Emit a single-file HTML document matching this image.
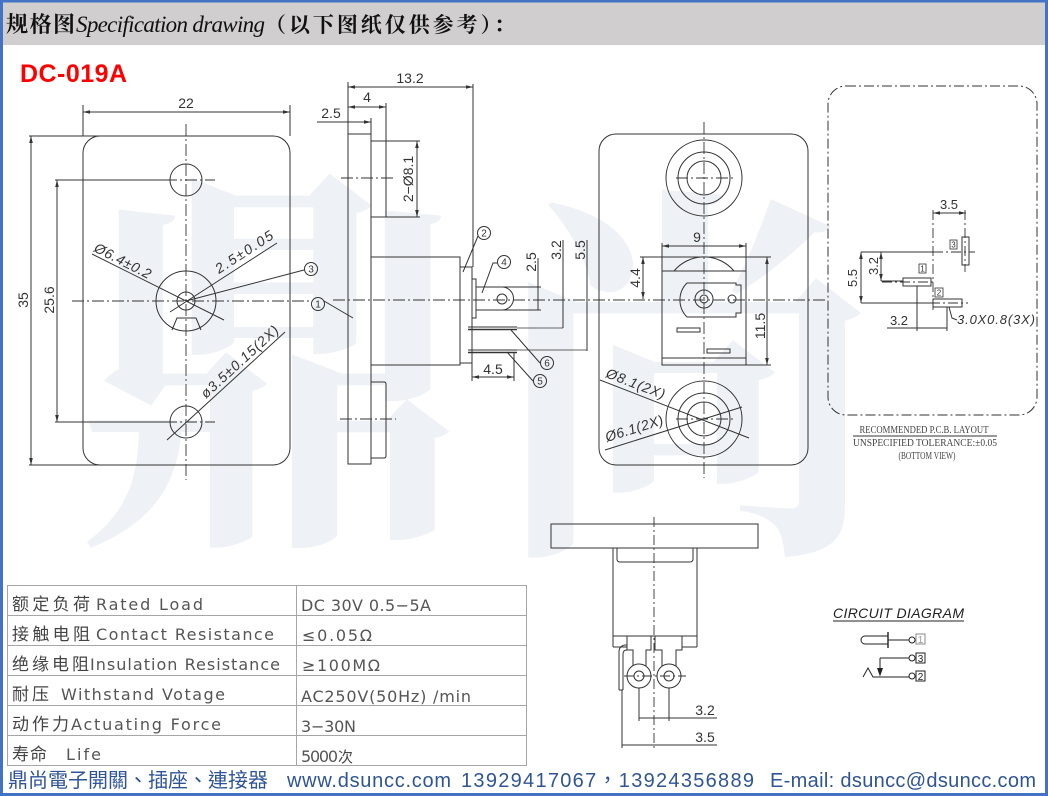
<!DOCTYPE html>
<html><head><meta charset="utf-8">
<style>
html,body{margin:0;padding:0;background:#fff;}
svg{display:block;}
</style></head>
<body>
<svg width="1048" height="796" viewBox="0 0 1048 796" xmlns="http://www.w3.org/2000/svg">
<defs>
<marker id="ar" markerWidth="8" markerHeight="6" refX="7" refY="3" orient="auto-start-reverse" markerUnits="userSpaceOnUse"><path d="M0,1.2 L7,3 L0,4.8 z" fill="#333"/></marker>
</defs>
<rect width="1048" height="796" fill="#fff"/>

<!-- watermark -->
<g fill="#eef1f5" font-family="'Noto Serif CJK SC','Noto Sans CJK SC',serif" font-weight="700">
<text x="72" y="512" font-size="400">鼎</text>
<text x="492" y="522" font-size="390">尚</text>
</g>

<!-- header -->
<rect x="0" y="0" width="1048" height="45" fill="#d0cece"/>
<text x="6" y="32" font-family="'Noto Serif CJK SC','Noto Sans CJK SC',serif" font-weight="700" font-size="22" fill="#111" textLength="69">规格图</text>
<text x="76" y="32" font-family="'Liberation Serif',serif" font-style="italic" font-size="23" fill="#111" textLength="189">Specification drawing</text>
<text x="265" y="32" font-family="'Noto Serif CJK SC','Noto Sans CJK SC',serif" font-weight="700" font-size="21" fill="#111" textLength="250">（以下图纸仅供参考）：</text>

<text x="20" y="82" font-family="'Liberation Sans',sans-serif" font-weight="700" font-size="25" fill="#ff0000" textLength="107">DC-019A</text>

<!-- ================= LEFT FRONT VIEW ================= -->
<g stroke="#333" stroke-width="1" fill="none">
<rect x="83" y="136" width="207" height="329" rx="17"/>
<line x1="83" y1="105" x2="83" y2="136"/>
<line x1="290" y1="105" x2="290" y2="136"/>
<line x1="83" y1="112" x2="290" y2="112" marker-start="url(#ar)" marker-end="url(#ar)"/>
<line x1="29" y1="136" x2="100" y2="136"/>
<line x1="29" y1="465" x2="100" y2="465"/>
<line x1="31" y1="136" x2="31" y2="465" marker-start="url(#ar)" marker-end="url(#ar)"/>
<line x1="55" y1="180" x2="165" y2="180"/>
<line x1="55" y1="422" x2="165" y2="422"/>
<line x1="57" y1="180" x2="57" y2="422" marker-start="url(#ar)" marker-end="url(#ar)"/>
<circle cx="186" cy="180" r="16"/>
<circle cx="186" cy="422" r="16"/>
<circle cx="186" cy="301" r="30"/>
<circle cx="186" cy="301" r="9"/>
<path d="M172,330 L177,318 H196 L201,330"/>
<line x1="92" y1="254" x2="224" y2="320"/>
<line x1="170" y1="312" x2="277" y2="243"/>
<line x1="186" y1="301" x2="304" y2="270"/>
<line x1="167" y1="440" x2="285" y2="332"/>
<circle cx="311" cy="269" r="6.5"/>
<circle cx="318" cy="304" r="6.5"/>
<line x1="324" y1="301" x2="353" y2="318"/>
</g>
<g stroke="#333" stroke-width="0.9" stroke-dasharray="12 3 2 3" fill="none">
<line x1="186" y1="124" x2="186" y2="480"/>
<line x1="72" y1="301" x2="309" y2="301"/>
<line x1="165" y1="180" x2="215" y2="180"/>
<line x1="165" y1="422" x2="215" y2="422"/>
</g>
<g font-family="'Liberation Sans',sans-serif" font-size="14" fill="#333">
<text x="186" y="108" text-anchor="middle">22</text>
<text transform="translate(28,300) rotate(-90)" text-anchor="middle">35</text>
<text transform="translate(54,300) rotate(-90)" text-anchor="middle">25.6</text>
<text transform="translate(93,251) rotate(27)" font-style="italic" textLength="62">Ø6.4±0.2</text>
<text transform="translate(219,274) rotate(-33)" font-style="italic" textLength="66">2.5±0.05</text>
<text transform="translate(206,399) rotate(-42.5)" font-style="italic" textLength="100">ø3.5±0.15(2X)</text>
<text x="311" y="272.5" font-size="10" text-anchor="middle">3</text>
<text x="318" y="307.5" font-size="10" text-anchor="middle">1</text>
</g>

<!-- ================= SIDE VIEW ================= -->
<g stroke="#333" stroke-width="1" fill="none">
<rect x="348" y="134" width="23" height="330"/>
<rect x="371" y="141" width="15" height="76"/>
<path d="M371,382 H384 Q386,382 386,384 V456 Q386,458 384,458 H371"/>
<rect x="371" y="257" width="89" height="108"/>
<rect x="460" y="267" width="12" height="96"/>
<rect x="472" y="279" width="4" height="39"/>
<path d="M476,287 H502 A11.5,11.5 0 0 1 502,310 H476"/>
<circle cx="502" cy="299" r="5"/>
<line x1="348" y1="82" x2="348" y2="134"/>
<line x1="473" y1="84" x2="473" y2="267"/>
<line x1="348" y1="87" x2="473" y2="87" marker-start="url(#ar)" marker-end="url(#ar)"/>
<line x1="386" y1="103" x2="386" y2="141"/>
<line x1="348" y1="107" x2="386" y2="107" marker-start="url(#ar)" marker-end="url(#ar)"/>
<line x1="371" y1="118" x2="371" y2="134"/>
<line x1="317" y1="122" x2="371" y2="122" marker-end="url(#ar)"/>
<line x1="386" y1="141" x2="420" y2="141"/>
<line x1="386" y1="217" x2="420" y2="217"/>
<line x1="417" y1="141" x2="417" y2="217" marker-start="url(#ar)" marker-end="url(#ar)"/>
<line x1="502" y1="287" x2="541" y2="287"/>
<line x1="502" y1="310" x2="541" y2="310"/>
<line x1="538" y1="258" x2="538" y2="310"/>
<line x1="563" y1="240" x2="563" y2="328"/>
<line x1="587" y1="240" x2="587" y2="351"/>
<line x1="517" y1="328" x2="563" y2="328" stroke-width="0.8"/>
<line x1="517" y1="350" x2="587" y2="350" stroke-width="0.8"/>
<line x1="468" y1="327" x2="517" y2="327" stroke-width="1"/>
<line x1="468" y1="329.5" x2="517" y2="329.5" stroke-width="1.4"/>
<line x1="468" y1="350" x2="517" y2="350" stroke-width="1"/>
<line x1="468" y1="352.5" x2="517" y2="352.5" stroke-width="1.4"/>
<line x1="472" y1="363" x2="472" y2="381"/>
<line x1="514" y1="352" x2="514" y2="381"/>
<line x1="472" y1="377" x2="514" y2="377" marker-start="url(#ar)" marker-end="url(#ar)"/>
<line x1="463" y1="272" x2="478" y2="236"/>
<circle cx="484" cy="233" r="6.5"/>
<path d="M482,293 L493,263 H497"/>
<circle cx="504" cy="262" r="6.5"/>
<line x1="511" y1="330" x2="540" y2="363"/>
<circle cx="547" cy="363" r="6.5"/>
<line x1="507" y1="352" x2="533" y2="381"/>
<circle cx="540" cy="381" r="6.5"/>
</g>
<g stroke="#333" stroke-width="0.9" stroke-dasharray="12 3 2 3" fill="none">
<line x1="341" y1="178" x2="396" y2="178"/>
<line x1="340" y1="419" x2="396" y2="419"/>
<line x1="333" y1="300" x2="828" y2="300"/>
</g>
<g font-family="'Liberation Sans',sans-serif" font-size="14" fill="#333">
<text x="410" y="83" text-anchor="middle">13.2</text>
<text x="367" y="102" text-anchor="middle">4</text>
<text x="331" y="118" text-anchor="middle">2.5</text>
<text transform="translate(413,179) rotate(-90)" text-anchor="middle">2−Ø8.1</text>
<text transform="translate(536,262) rotate(-90)" text-anchor="middle">2.5</text>
<text transform="translate(561,250) rotate(-90)" text-anchor="middle">3.2</text>
<text transform="translate(585,250) rotate(-90)" text-anchor="middle">5.5</text>
<text x="493" y="374" text-anchor="middle">4.5</text>
<g font-size="10" text-anchor="middle">
<text x="484" y="236.5">2</text>
<text x="504" y="265.5">4</text>
<text x="547" y="366.5">6</text>
<text x="540" y="384.5">5</text>
</g>
</g>

<!-- ================= RIGHT FRONT VIEW ================= -->
<g stroke="#333" stroke-width="1" fill="none">
<rect x="599" y="134" width="209" height="331" rx="17"/>
<circle cx="704" cy="178" r="38"/>
<circle cx="704" cy="178" r="26"/>
<circle cx="704" cy="178" r="17"/>
<circle cx="704" cy="419" r="38"/>
<circle cx="704" cy="419" r="26"/>
<circle cx="704" cy="419" r="17"/>
<rect x="662" y="271" width="84" height="94"/>
<line x1="662" y1="358" x2="746" y2="358"/>
<path d="M674,271 A39,39 0 0 1 734,271"/>
<path d="M687,283 A24,24 0 0 0 687,317 H736 V313 H741 V285 H736 V283 Z"/>
<circle cx="704" cy="299" r="9"/>
<circle cx="704" cy="299" r="4"/>
<circle cx="732" cy="299" r="4"/>
<rect x="677" y="328" width="23" height="4"/>
<rect x="707" y="349" width="23" height="4"/>
<line x1="662" y1="243" x2="662" y2="271"/>
<line x1="746" y1="243" x2="746" y2="271"/>
<line x1="662" y1="246" x2="746" y2="246" marker-start="url(#ar)" marker-end="url(#ar)"/>
<line x1="640" y1="257" x2="771" y2="257"/>
<line x1="643" y1="257" x2="643" y2="299" marker-start="url(#ar)" marker-end="url(#ar)"/>
<line x1="746" y1="365" x2="771" y2="365"/>
<line x1="767" y1="257" x2="767" y2="365" marker-start="url(#ar)" marker-end="url(#ar)"/>
<line x1="600" y1="380" x2="749" y2="438"/>
<line x1="605" y1="450" x2="742" y2="407"/>
</g>
<g stroke="#333" stroke-width="0.9" stroke-dasharray="12 3 2 3" fill="none">
<line x1="704" y1="122" x2="704" y2="478"/>
<line x1="676" y1="178" x2="733" y2="178"/>
<line x1="676" y1="419" x2="733" y2="419"/>
</g>
<g font-family="'Liberation Sans',sans-serif" font-size="14" fill="#333">
<text x="697" y="242" text-anchor="middle">9</text>
<text transform="translate(640,278) rotate(-90)" text-anchor="middle">4.4</text>
<text transform="translate(765,326) rotate(-90)" text-anchor="middle">11.5</text>
<text transform="translate(605,377) rotate(21)" font-style="italic" textLength="62">Ø8.1(2X)</text>
<text transform="translate(607,442) rotate(-17.4)" font-style="italic" textLength="60">Ø6.1(2X)</text>
</g>

<!-- ================= PCB LAYOUT ================= -->
<g stroke="#333" stroke-width="1" fill="none">
<rect x="828" y="86" width="209" height="329" rx="18" stroke-dasharray="10 3 2 3"/>
<rect x="962" y="237" width="7" height="28"/>
<rect x="903" y="278" width="28" height="8"/>
<rect x="933" y="299" width="29" height="8"/>
<rect x="950" y="240" width="7" height="9" stroke-width="0.8"/>
<rect x="919" y="264" width="7" height="9" stroke-width="0.8"/>
<rect x="935" y="288" width="8" height="9" stroke-width="0.8"/>
<line x1="861" y1="252" x2="933" y2="252"/>
<line x1="861" y1="252" x2="861" y2="303" marker-start="url(#ar)" marker-end="url(#ar)"/>
<line x1="861" y1="303" x2="933" y2="303"/>
<line x1="881" y1="252" x2="881" y2="281" marker-start="url(#ar)" marker-end="url(#ar)"/>
<line x1="881" y1="281" x2="903" y2="281"/>
<line x1="933" y1="213" x2="966" y2="213" marker-start="url(#ar)" marker-end="url(#ar)"/>
<line x1="917" y1="286" x2="917" y2="331"/>
<line x1="947" y1="307" x2="947" y2="331"/>
<line x1="887" y1="328" x2="947" y2="328"/>
<path d="M949,307 L952,318 L957,320"/>
<line x1="853" y1="436" x2="997" y2="436"/>
</g>
<g stroke="#333" stroke-width="0.9" stroke-dasharray="10 3 2 3" fill="none">
<line x1="933" y1="210" x2="933" y2="313"/>
<line x1="965" y1="210" x2="965" y2="272"/>
<line x1="933" y1="252" x2="975" y2="252"/>
<line x1="882" y1="282" x2="936" y2="282"/>
<line x1="930" y1="303" x2="968" y2="303"/>
</g>
<g font-family="'Liberation Sans',sans-serif" font-size="13" fill="#333">
<text x="949" y="209" text-anchor="middle">3.5</text>
<text transform="translate(857,278) rotate(-90)" text-anchor="middle">5.5</text>
<text transform="translate(878,266) rotate(-90)" text-anchor="middle">3.2</text>
<text x="899" y="325" text-anchor="middle">3.2</text>
<text x="957" y="324" font-style="italic" textLength="78">3.0X0.8(3X)</text>
<g font-size="8" text-anchor="middle">
<text x="953.5" y="247.5">3</text>
<text x="922.5" y="271.5">1</text>
<text x="939" y="295.5">2</text>
</g>
</g>
<g font-family="'Liberation Serif',serif" font-size="10" fill="#444" text-anchor="middle">
<text x="924" y="433" textLength="129" lengthAdjust="spacingAndGlyphs">RECOMMENDED P.C.B. LAYOUT</text>
<text x="925" y="446" textLength="144" lengthAdjust="spacingAndGlyphs">UNSPECIFIED TOLERANCE:±0.05</text>
<text x="927" y="459" textLength="57" lengthAdjust="spacingAndGlyphs">(BOTTOM VIEW)</text>
</g>

<!-- ================= BOTTOM VIEW ================= -->
<g stroke="#333" stroke-width="1" fill="none">
<rect x="551" y="524" width="207" height="24"/>
<path d="M617,548 V559 Q617,562 620,562 H690 Q693,562 693,559 V548"/>
<line x1="613" y1="548" x2="613" y2="647"/>
<line x1="697" y1="548" x2="697" y2="647"/>
<line x1="613" y1="636" x2="697" y2="636"/>
<line x1="613" y1="647" x2="627" y2="647"/>
<line x1="682" y1="647" x2="697" y2="647"/>
<path d="M627,636 V650 H633 V666"/>
<path d="M651,636 V650 H646 V666"/>
<path d="M655,636 V650 H662 V666"/>
<path d="M682,636 V650 H676 V666"/>
<circle cx="639" cy="676" r="12"/>
<circle cx="639" cy="676" r="5"/>
<circle cx="669" cy="676" r="12"/>
<circle cx="669" cy="676" r="5"/>
<path d="M619,690 V652 Q619,646 625,645 H627"/>
<path d="M623,690 V654 Q623,650 627,650"/>
<line x1="619" y1="690" x2="623" y2="690"/>
<line x1="639" y1="688" x2="639" y2="721"/>
<line x1="669" y1="688" x2="669" y2="721"/>
<line x1="639" y1="718" x2="717" y2="718"/>
<line x1="622" y1="690" x2="622" y2="748"/>
<line x1="622" y1="745" x2="717" y2="745"/>
</g>
<g stroke="#333" stroke-width="0.9" stroke-dasharray="10 3 2 3" fill="none">
<line x1="654" y1="517" x2="654" y2="748"/>
<line x1="624" y1="676" x2="686" y2="676"/>
</g>
<g font-family="'Liberation Sans',sans-serif" font-size="14" fill="#333">
<text x="705" y="715" text-anchor="middle">3.2</text>
<text x="705" y="742" text-anchor="middle">3.5</text>
</g>

<!-- ================= CIRCUIT DIAGRAM ================= -->
<text x="833" y="618" font-family="'Liberation Sans',sans-serif" font-style="italic" font-size="14" fill="#222" textLength="131">CIRCUIT DIAGRAM</text>
<g stroke="#222" stroke-width="1" fill="none">
<line x1="833" y1="621" x2="964" y2="621"/>
<path d="M888,636 H865 A4,4 0 0 0 865,644 H888"/>
<line x1="888" y1="632" x2="888" y2="648" stroke-width="1.4"/>
<line x1="888" y1="640" x2="909" y2="640"/>
<circle cx="912" cy="640" r="3"/>
<rect x="916" y="634" width="9" height="10" stroke="#888"/>
<line x1="880" y1="658" x2="909" y2="658"/>
<circle cx="912" cy="658" r="3"/>
<rect x="916" y="653" width="9" height="10"/>
<line x1="880" y1="658" x2="880" y2="673"/>
<path d="M877.5,668 L880,675 L882.5,668" fill="#222"/>
<path d="M863,677 L868,668 L873,677 H909"/>
<circle cx="912" cy="676" r="3"/>
<rect x="916" y="671" width="9" height="10"/>
</g>
<g font-family="'Liberation Sans',sans-serif" font-size="10" fill="#222" text-anchor="middle">
<text x="920.5" y="643" fill="#999">1</text>
<text x="920.5" y="662">3</text>
<text x="920.5" y="680">2</text>
</g>

<!-- ================= TABLE ================= -->
<g stroke="#a6a6a6" stroke-width="1" fill="none">
<rect x="7.5" y="585.5" width="519" height="180"/>
<line x1="296.5" y1="585" x2="296.5" y2="766"/>
<line x1="7" y1="615.5" x2="527" y2="615.5"/>
<line x1="7" y1="645.5" x2="527" y2="645.5"/>
<line x1="7" y1="675.5" x2="527" y2="675.5"/>
<line x1="7" y1="705.5" x2="527" y2="705.5"/>
<line x1="7" y1="735.5" x2="527" y2="735.5"/>
</g>
<g font-family="'Noto Sans CJK SC','WenQuanYi Zen Hei',sans-serif" font-size="17" fill="#444">
<text x="12" y="610" textLength="78">额定负荷</text>
<text x="12" y="640" textLength="78">接触电阻</text>
<text x="12" y="670" textLength="77">绝缘电阻</text>
<text x="12" y="700" textLength="37">耐压</text>
<text x="12" y="730" textLength="57">动作力</text>
<text x="12" y="760" textLength="35">寿命</text>
</g>
<g font-family="'DejaVu Sans','Liberation Sans',sans-serif" font-size="16" fill="#555">
<text x="96" y="610" textLength="107">Rated Load</text>
<text x="96" y="640" textLength="178">Contact Resistance</text>
<text x="90" y="670" textLength="190">Insulation Resistance</text>
<text x="61" y="700" textLength="164">Withstand Votage</text>
<text x="71" y="730" textLength="150">Actuating  Force</text>
<text x="66" y="760" textLength="35">Life</text>
<text x="301" y="611" textLength="130">DC 30V 0.5−5A</text>
<text x="302" y="641" textLength="70">≤0.05Ω</text>
<text x="302" y="671" textLength="78">≥100MΩ</text>
<text x="301" y="702" textLength="170">AC250V(50Hz) /min</text>
<text x="301" y="732" textLength="55">3−30N</text>
<text x="301" y="762" textLength="37">5000</text>
<text x="338" y="762" font-family="'Noto Sans CJK SC',sans-serif" font-size="15" fill="#444">次</text>
</g>

<!-- ================= FOOTER ================= -->
<g font-family="'Liberation Sans','Noto Sans CJK TC',sans-serif" font-size="20" fill="#2f5597">
<text x="8" y="787" textLength="260" font-family="'Noto Sans CJK TC','Noto Sans CJK SC',sans-serif">鼎尚電子開關、插座、連接器</text>
<text x="287" y="787" textLength="164">www.dsuncc.com</text>
<text x="461" y="787" textLength="293">13929417067，13924356889</text>
<text x="770" y="787" textLength="266">E-mail: dsuncc@dsuncc.com</text>
</g>

<!-- outer border -->
<rect x="1.5" y="1" width="1045" height="793.5" fill="none" stroke="#4472c4" stroke-width="3"/>
</svg>
</body>
</html>
